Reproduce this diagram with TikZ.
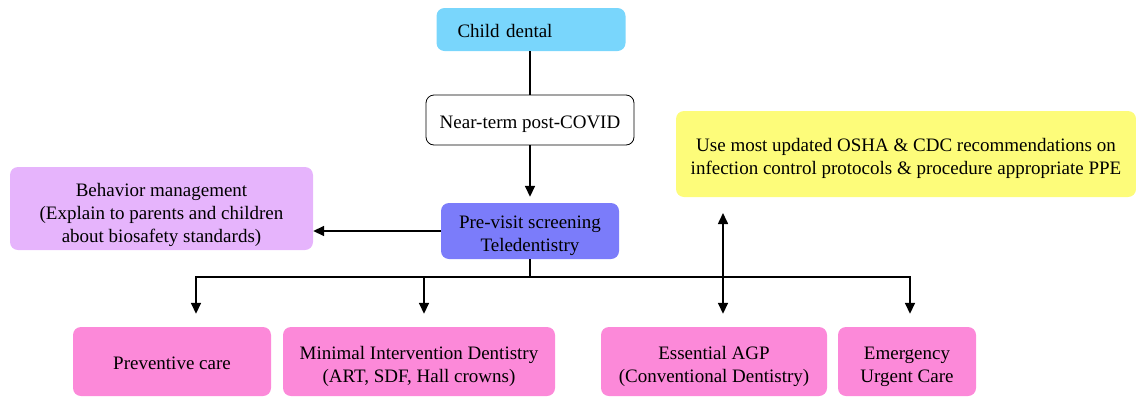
\documentclass[tikz,border=0pt]{standalone}
\usepackage{fontspec}
\setmainfont{Liberation Serif}
\usetikzlibrary{arrows.meta,positioning}

\definecolor{childblue}{HTML}{79D6FC}
\definecolor{screenblue}{HTML}{7B7CFA}
\definecolor{behavlilac}{HTML}{E6B4FC}
\definecolor{ppeyellow}{HTML}{FDFC7A}
\definecolor{carepink}{HTML}{FC89D9}

\begin{document}
\begin{tikzpicture}[
    x=1pt,y=-1pt,
    box/.style={rounded corners=8pt, align=center, inner sep=0pt, text depth=0pt,
      font=\fontsize{19}{23}\selectfont},
    oneline/.style={execute at begin node={\rule{0pt}{16pt}}},
    twoline/.style={text height=41pt},
    threeline/.style={text height=68pt},
    care/.style={box, fill=carepink, minimum height=69pt},
    edge/.style={-{Triangle[length=11pt,width=10pt]}, line width=1.6pt},
    link/.style={line width=1.6pt}
  ]
    \useasboundingbox (0,0) rectangle (1136,397);

    \node[box, oneline, fill=childblue, minimum height=43pt, text width=147pt,
      align=left, inner xsep=21pt] (child) at (531,29.5) {Child dental};
    \node[box, oneline, draw, line width=0.8pt, minimum width=208pt, minimum height=50pt]
      (near) at (530,120) {Near-term post-COVID};
    \node[box, twoline, fill=screenblue, minimum width=178pt, minimum height=56pt]
      (screen) at (530,231) {Pre-visit screening\\Teledentistry};
    \node[box, threeline, fill=behavlilac, minimum width=303pt, minimum height=83pt]
      (behav) at (161.5,208.5)
      {Behavior management\\(Explain to parents and children\\about biosafety standards)};
    \node[box, twoline, fill=ppeyellow, minimum width=460pt, minimum height=86pt]
      (ppe) at (906,154)
      {Use most updated OSHA \& CDC recommendations on\\infection control protocols \& procedure appropriate PPE};

    \node[care, oneline, minimum width=198pt] (prev) at (172,361.5) {Preventive care};
    \node[care, twoline, minimum width=272pt] (mid) at (419,361.5)
      {Minimal Intervention Dentistry\\(ART, SDF, Hall crowns)};
    \node[care, twoline, minimum width=226pt] (agp) at (714,361.5)
      {Essential AGP\\(Conventional Dentistry)};
    \node[care, twoline, minimum width=138pt] (emerg) at (907,361.5)
      {Emergency\\Urgent Care};

    \coordinate (split) at (530,277);
    \coordinate (ppetip) at (723,213);

    \draw[link] (child.south -| near) -- (near);
    \draw[edge, shorten >=6pt] (near) -- (screen);
    \draw[edge] (screen.west) -- (screen.west -| behav.east);
    \draw[link] (screen) -- (split);
    \draw[edge, shorten >=13pt] (split) -| ([xshift=24pt]prev.north);
    \draw[edge, shorten >=13pt] (split) -| ([xshift=5pt]mid.north);
    \draw[edge, shorten >=13pt] (split) -| ([xshift=9pt]agp.north);
    \draw[edge, shorten >=13pt] (split) -| ([xshift=3pt]emerg.north);
    \draw[edge] (split -| ppetip) -- (ppetip);
  \end{tikzpicture}
\end{document}
